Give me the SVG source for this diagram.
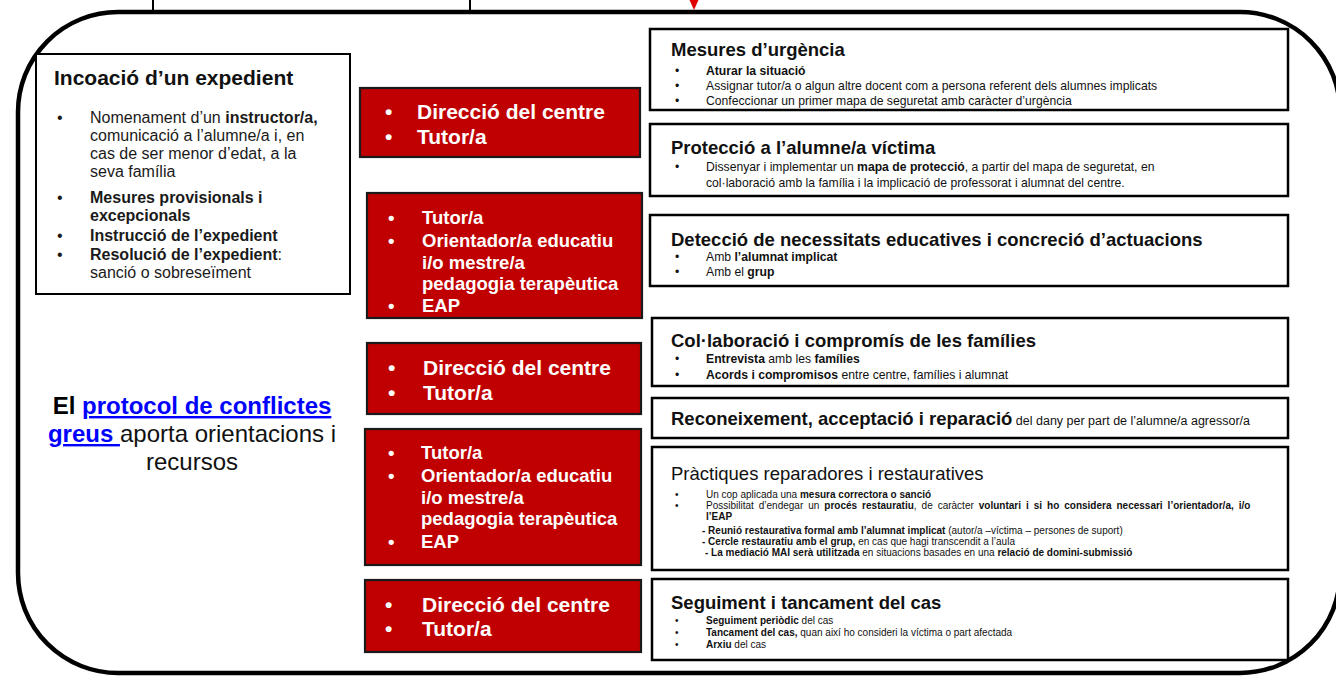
<svg xmlns="http://www.w3.org/2000/svg" width="1336" height="676" viewBox="0 0 1336 676">
<style>
text{font-family:"Liberation Sans",Arial,sans-serif;fill:#111}
.b{font-weight:bold}
.wbox{fill:#fff;stroke:#000;stroke-width:2.5}
.red{fill:#C00000;stroke:#1a1a1a;stroke-width:2.2}
.rt{fill:#fff;font-weight:bold;font-size:21px}
.rt2{fill:#fff;font-weight:bold;font-size:18.5px}
.ttl{font-weight:bold;font-size:18.5px}
.s12{font-size:12.2px}
.s10{font-size:10px}
.lt{font-size:16px;fill:#1a1a1a}
</style>
<rect width="1336" height="676" fill="#fff"/>
<g id="connectors">
<line x1="153" y1="0" x2="153" y2="12" stroke="#000" stroke-width="2"/>
<line x1="470" y1="0" x2="470" y2="12" stroke="#000" stroke-width="2"/>
<polygon points="689.5,0 698.5,0 694,10" fill="#E00000"/>
</g>
<g id="frame">
<path d="M118,12 H1240 A100,100 0 0 1 1340,112 V573 A100,100 0 0 1 1240,673 H118 A100,100 0 0 1 18,573 V112 A100,100 0 0 1 118,12 Z" fill="none" stroke="#000" stroke-width="4.5"/>
</g>
<g id="incoacio">
<rect x="36" y="54" width="314" height="240" fill="#fff" stroke="#000" stroke-width="2"/>
<text x="54" y="85" font-size="21" class="b" fill="#000">Incoació d’un expedient</text>
<text x="57" y="122.5" class="lt">•</text>
<text x="57" y="202.5" class="lt">•</text>
<text x="57" y="240.5" class="lt">•</text>
<text x="57" y="259.5" class="lt">•</text>
<text x="90" y="122.5" class="lt">Nomenament d’un <tspan class="b">instructor/a,</tspan></text>
<text x="90" y="140.5" class="lt">comunicació a l’alumne/a i, en</text>
<text x="90" y="158.5" class="lt">cas de ser menor d’edat, a la</text>
<text x="90" y="176.5" class="lt">seva família</text>
<text x="90" y="202.5" class="lt b">Mesures provisionals i</text>
<text x="90" y="220.5" class="lt b">excepcionals</text>
<text x="90" y="240.5" class="lt b">Instrucció de l’expedient</text>
<text x="90" y="259.5" class="lt"><tspan class="b">Resolució de l’expedient</tspan>:</text>
<text x="90" y="277.5" class="lt">sanció o sobreseïment</text>
</g>
<g id="protocol">
<text x="192" y="414" font-size="24" text-anchor="middle"><tspan class="b" fill="#000">El </tspan><tspan class="b" fill="#0000FF" text-decoration="underline">protocol de conflictes</tspan></text>
<text x="192" y="442" font-size="24" text-anchor="middle"><tspan class="b" fill="#0000FF" text-decoration="underline">greus </tspan><tspan>aporta orientacions i</tspan></text>
<text x="192" y="470" font-size="24" text-anchor="middle">recursos</text>
</g>
<g id="resp1">
<rect x="360" y="88" width="280" height="69" class="red"/>
<text x="385" y="118.5" class="rt">•</text><text x="417" y="118.5" class="rt">Direcció del centre</text>
<text x="385" y="143.5" class="rt">•</text><text x="417" y="143.5" class="rt">Tutor/a</text>
</g>
<g id="resp2">
<rect x="367" y="193" width="275" height="125" class="red"/>
<text x="388" y="223.5" class="rt2">•</text><text x="422" y="223.5" class="rt2">Tutor/a</text>
<text x="388" y="246.5" class="rt2">•</text><text x="422" y="246.5" class="rt2">Orientador/a educatiu</text>
<text x="422" y="268.5" class="rt2">i/o mestre/a</text>
<text x="422" y="289.5" class="rt2">pedagogia terapèutica</text>
<text x="388" y="311.5" class="rt2">•</text><text x="422" y="311.5" class="rt2">EAP</text>
</g>
<g id="resp3">
<rect x="367" y="343" width="274" height="71" class="red"/>
<text x="388" y="374.5" class="rt">•</text><text x="423" y="374.5" class="rt">Direcció del centre</text>
<text x="388" y="399.5" class="rt">•</text><text x="423" y="399.5" class="rt">Tutor/a</text>
</g>
<g id="resp4">
<rect x="365" y="429" width="276" height="136" class="red"/>
<text x="388" y="458.5" class="rt2">•</text><text x="421" y="458.5" class="rt2">Tutor/a</text>
<text x="388" y="481.5" class="rt2">•</text><text x="421" y="481.5" class="rt2">Orientador/a educatiu</text>
<text x="421" y="503.5" class="rt2">i/o mestre/a</text>
<text x="421" y="524.5" class="rt2">pedagogia terapèutica</text>
<text x="388" y="547.5" class="rt2">•</text><text x="421" y="547.5" class="rt2">EAP</text>
</g>
<g id="resp5">
<rect x="365" y="580" width="276" height="72" class="red"/>
<text x="385" y="611.5" class="rt">•</text><text x="422" y="611.5" class="rt">Direcció del centre</text>
<text x="385" y="635.5" class="rt">•</text><text x="422" y="635.5" class="rt">Tutor/a</text>
</g>
<g id="mesures">
<rect x="650" y="29" width="638" height="81" class="wbox"/>
<text x="671" y="56" class="ttl">Mesures d’urgència</text>
<text x="675" y="75" class="s12">•</text><text x="706" y="75" class="s12 b">Aturar la situació</text>
<text x="675" y="90" class="s12">•</text><text x="706" y="90" class="s12">Assignar tutor/a o algun altre docent com a persona referent dels alumnes implicats</text>
<text x="675" y="105" class="s12">•</text><text x="706" y="105" class="s12">Confeccionar un primer mapa de seguretat amb caràcter d’urgència</text>
</g>
<g id="proteccio">
<rect x="650" y="124" width="638" height="72" class="wbox"/>
<text x="671" y="154" class="ttl">Protecció a l’alumne/a víctima</text>
<text x="675" y="171" class="s12">•</text><text x="706" y="171" class="s12">Dissenyar i implementar un <tspan class="b">mapa de protecció</tspan>, a partir del mapa de seguretat, en</text>
<text x="706" y="187" class="s12">col·laboració amb la família i la implicació de professorat i alumnat del centre.</text>
</g>
<g id="deteccio">
<rect x="650" y="215" width="638" height="71" class="wbox"/>
<text x="671" y="246" class="ttl">Detecció de necessitats educatives i concreció d’actuacions</text>
<text x="675" y="261" class="s12">•</text><text x="706" y="261" class="s12">Amb <tspan class="b">l’alumnat implicat</tspan></text>
<text x="675" y="276" class="s12">•</text><text x="706" y="276" class="s12">Amb el <tspan class="b">grup</tspan></text>
</g>
<g id="collaboracio">
<rect x="652" y="318" width="636" height="68" class="wbox"/>
<text x="671" y="347" class="ttl">Col·laboració i compromís de les famílies</text>
<text x="675" y="363" class="s12">•</text><text x="706" y="363" class="s12"><tspan class="b">Entrevista</tspan> amb les <tspan class="b">famílies</tspan></text>
<text x="675" y="379" class="s12">•</text><text x="706" y="379" class="s12"><tspan class="b">Acords i compromisos</tspan> entre centre, famílies i alumnat</text>
</g>
<g id="reconeixement">
<rect x="652" y="398" width="636" height="40" class="wbox"/>
<text x="671" y="425"><tspan class="ttl">Reconeixement, acceptació i reparació</tspan><tspan font-size="12.5"> del dany per part de l’alumne/a agressor/a</tspan></text>
</g>
<g id="practiques">
<rect x="652" y="447" width="636" height="123" class="wbox"/>
<text x="671" y="480" font-size="18.5">Pràctiques reparadores i restauratives</text>
<text x="675" y="497.5" class="s10">•</text><text x="706" y="497.5" class="s10">Un cop aplicada una <tspan class="b">mesura correctora o sanció</tspan></text>
<text x="675" y="508.5" class="s10">•</text><text x="706" y="508.5" class="s10" word-spacing="2.2">Possibilitat d’endegar un <tspan class="b">procés restauratiu</tspan>, de caràcter <tspan class="b">voluntari i si ho considera necessari l’orientador/a, i/o</tspan></text>
<text x="706" y="519.5" class="s10 b">l’EAP</text>
<text x="702" y="533.5" class="s10"><tspan class="b">- Reunió restaurativa formal amb l’alumnat implicat</tspan> (autor/a –víctima – persones de suport)</text>
<text x="702" y="544.5" class="s10"><tspan class="b">- Cercle restauratiu amb el grup,</tspan> en cas que hagi transcendit a l’aula</text>
<text x="705" y="555.5" class="s10"><tspan class="b">- La mediació MAI serà utilitzada</tspan> en situacions basades en una <tspan class="b">relació de domini-submissió</tspan></text>
</g>
<g id="seguiment">
<rect x="652" y="579" width="636" height="81" class="wbox"/>
<text x="671" y="609" class="ttl">Seguiment i tancament del cas</text>
<text x="675" y="623.5" class="s10">•</text><text x="706" y="623.5" class="s10"><tspan class="b">Seguiment periòdic</tspan> del cas</text>
<text x="675" y="635.5" class="s10">•</text><text x="706" y="635.5" class="s10"><tspan class="b">Tancament del cas,</tspan> quan així ho consideri la víctima o part afectada</text>
<text x="675" y="647.5" class="s10">•</text><text x="706" y="647.5" class="s10"><tspan class="b">Arxiu</tspan> del cas</text>
</g>
</svg>
